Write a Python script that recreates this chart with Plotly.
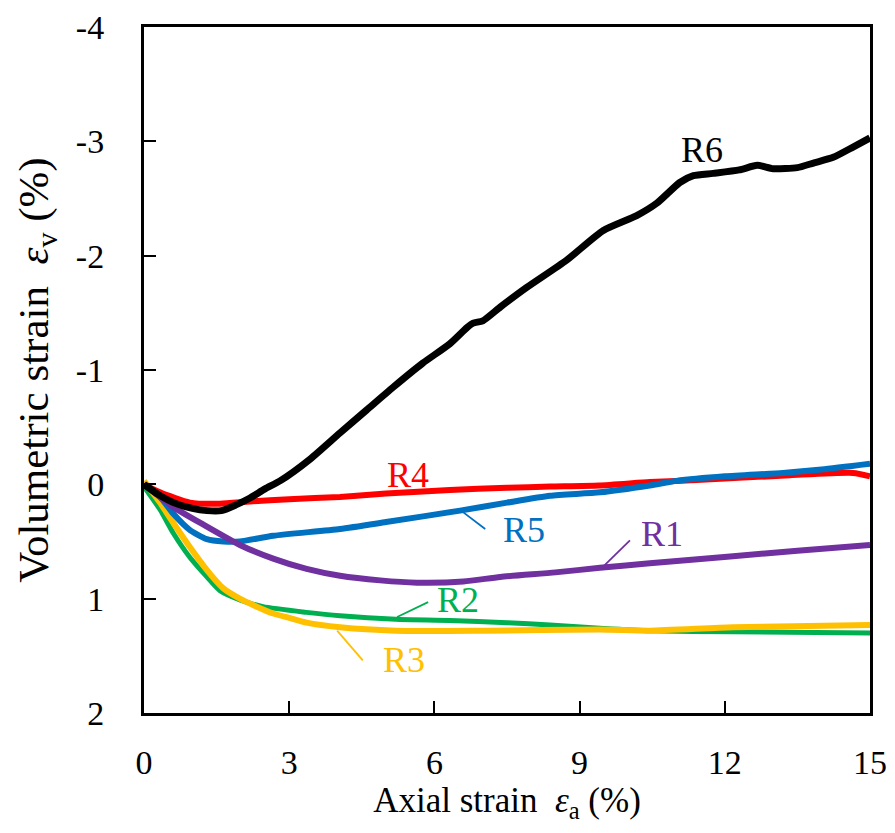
import plotly.graph_objects as go

# ---------------- data ----------------
r6_x = [0, 0.3, 0.61, 1.0, 1.3, 1.6, 1.9, 2.19, 2.5, 2.81, 3.43, 4.05, 4.6, 5.15, 5.76, 6.32, 6.67,
        6.8, 7.0, 7.36, 7.9, 8.73, 9.49, 10.18, 10.6, 11.07, 11.35, 11.76, 12.3, 12.67, 13.0, 13.5,
        13.83, 14.24, 14.65, 15.0]
r6_y = [0, 0.09, 0.16, 0.21, 0.23, 0.23, 0.18, 0.12, 0.04, -0.03, -0.22, -0.45, -0.65, -0.85,
        -1.06, -1.23, -1.37, -1.41, -1.43, -1.55, -1.72, -1.96, -2.22, -2.35, -2.46, -2.64, -2.70,
        -2.72, -2.75, -2.79, -2.76, -2.77, -2.81, -2.86, -2.95, -3.03]

r4_x = [0, 0.33, 0.95, 1.57, 2.19, 3.0, 4.05, 5.0, 6.32, 7.5, 8.39, 9.4, 10.45, 11.0, 12.0, 13.35,
        14.65, 15.0]
r4_y = [0, 0.07, 0.16, 0.17, 0.15, 0.13, 0.11, 0.08, 0.05, 0.03, 0.02, 0.01, -0.02, -0.03, -0.05,
        -0.08, -0.10, -0.07]

r5_x = [0, 0.33, 0.61, 0.95, 1.30, 1.64, 1.98, 2.67, 4.05, 5.0, 6.53, 7.5, 8.39, 9.42, 10.45, 11.0,
        12.0, 13.2, 14.0, 15.0]
r5_y = [0, 0.11, 0.26, 0.40, 0.48, 0.50, 0.50, 0.45, 0.39, 0.33, 0.23, 0.16, 0.10, 0.07, 0.01,
        -0.03, -0.07, -0.10, -0.13, -0.18]

r1_x = [0, 0.61, 1.30, 1.98, 2.67, 3.36, 4.05, 4.88, 5.64, 6.6, 7.36, 8.5, 9.42, 10.45, 12.17,
        13.5, 15.0]
r1_y = [0, 0.20, 0.37, 0.53, 0.65, 0.74, 0.80, 0.84, 0.86, 0.85, 0.81, 0.77, 0.73, 0.69, 0.63,
        0.58, 0.53]

r2_x = [0, 0.33, 0.61, 0.95, 1.30, 1.57, 1.98, 2.46, 3.36, 4.05, 5.2, 6.32, 7.5, 8.39, 9.5, 10.45,
        12.17, 15.0]
r2_y = [0.02, 0.22, 0.43, 0.64, 0.81, 0.93, 1.01, 1.07, 1.12, 1.15, 1.18, 1.19, 1.21, 1.23, 1.26,
        1.28, 1.29, 1.30]

r3_x = [0, 0.33, 0.61, 0.95, 1.30, 1.64, 1.98, 2.33, 2.67, 3.02, 3.36, 4.05, 5.2, 7.0, 9.42, 10.45,
        12.17, 15.0]
r3_y = [-0.03, 0.16, 0.34, 0.55, 0.75, 0.91, 1.00, 1.07, 1.13, 1.17, 1.21, 1.25, 1.28, 1.28, 1.27,
        1.28, 1.25, 1.23]

x_ticks = [0, 3, 6, 9, 12, 15]
y_ticks = [-4, -3, -2, -1, 0, 1, 2]
y_tick_text = ["-4", "-3", "-2", "-1", "0", "1", "2"]

# ---------------- styling ----------------
FONT = "Liberation Serif"
series = [
    ("R2", r2_x, r2_y, "#00B050", 5),
    ("R3", r3_x, r3_y, "#FFC000", 6),
    ("R4", r4_x, r4_y, "#FF0000", 6),
    ("R5", r5_x, r5_y, "#0070C0", 6),
    ("R1", r1_x, r1_y, "#7030A0", 6),
    ("R6", r6_x, r6_y, "#000000", 7),
]
colors = {s[0]: s[3] for s in series}

# label text positions (data units) and leader lines
labels = {
    "R6": (11.53, -2.92, None),
    "R4": (5.45, -0.08, None),
    "R5": (7.85, 0.40, ((7.05, 0.39), (6.55, 0.23))),
    "R1": (10.7, 0.43, ((10.04, 0.49), (9.46, 0.73))),
    "R2": (6.49, 1.01, ((5.87, 1.03), (5.23, 1.16))),
    "R3": (5.37, 1.54, ((4.52, 1.54), (3.99, 1.28))),
}

fig = go.Figure()
for name, xs, ys, col, w in series:
    fig.add_trace(go.Scatter(x=xs, y=ys, mode="lines", name=name,
                             line=dict(color=col, width=w, shape="spline", smoothing=0.6),
                             showlegend=False))

for name, (tx, ty, lead) in labels.items():
    fig.add_annotation(x=tx, y=ty, text=name, showarrow=False,
                       font=dict(family=FONT, size=36, color=colors[name]))
    if lead:
        (x0, y0), (x1, y1) = lead
        fig.add_shape(type="line", x0=x0, y0=y0, x1=x1, y1=y1, xref="x", yref="y",
                      line=dict(color=colors[name], width=1.8))

# page has an 8px body margin, so the figure is 16px smaller than the window
fig.update_layout(
    width=879, height=817,
    margin=dict(l=136, r=17, t=19, b=112, autoexpand=False),
    paper_bgcolor="white", plot_bgcolor="white",
    font=dict(family=FONT, size=34, color="black"),
)
fig.update_xaxes(
    range=[0, 15], tickvals=x_ticks, ticktext=[str(v) for v in x_ticks],
    ticks="inside", ticklen=12, tickwidth=2, tickcolor="black",
    showline=True, linewidth=3, linecolor="black", mirror=True,
    showgrid=False, zeroline=False, ticklabelstandoff=17, automargin=False,
    tickfont=dict(family=FONT, size=34),
    title=dict(text="Axial strain  <i>ε</i><sub>a</sub> (%)", standoff=2,
               font=dict(family=FONT, size=35)),
)
fig.update_yaxes(
    range=[2, -4], tickvals=y_ticks, ticktext=y_tick_text,
    ticks="inside", ticklen=12, tickwidth=2, tickcolor="black",
    showline=True, linewidth=3, linecolor="black", mirror=True,
    showgrid=False, zeroline=False, ticklabelstandoff=30, automargin=False,
    tickfont=dict(family=FONT, size=34),
    title=dict(text="Volumetric strain  <i>ε</i><sub>v</sub> (%)", standoff=14,
               font=dict(family=FONT, size=43)),
)

fig.write_html("out.html")
